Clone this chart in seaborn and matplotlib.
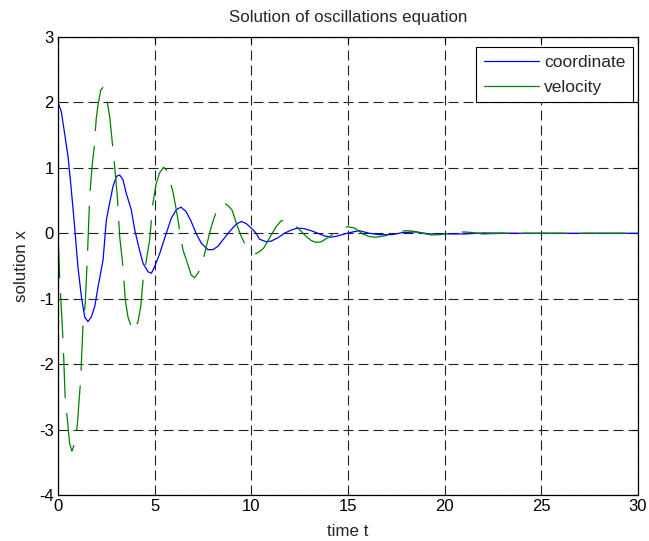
import matplotlib
matplotlib.use("Agg")
import matplotlib.pyplot as plt
import seaborn as sns
import pandas as pd

# --- data ---
t_coord = [0, 0.17, 0.34, 0.52, 0.69, 0.86, 1.03, 1.21, 1.38, 1.55, 1.72, 1.90, 2.07, 2.33, 2.5,
           2.67, 2.84, 3.02, 3.19, 3.36, 3.53, 3.79, 3.97, 4.22, 4.4, 4.66, 4.83, 5.0, 5.26, 5.6,
           5.86, 6.12, 6.36, 6.63, 6.89, 7.14, 7.41, 7.75, 8.01, 8.27, 8.53, 8.88, 9.22, 9.48,
           9.73, 10.0, 10.25, 10.42, 10.77, 11.02, 11.37, 11.71, 12.06, 12.4, 12.75, 13.09,
           13.44, 13.78, 14.13, 14.47, 14.82, 15.16, 15.59, 16.1, 16.6, 17.3, 17.8, 18.5, 19.2,
           19.9, 21, 22, 24, 26, 28, 30]
coordinate = [2.0, 1.86, 1.53, 1.17, 0.66, 0.10, -0.51, -0.97, -1.28, -1.35, -1.28, -1.12, -0.82,
              -0.41, 0.2, 0.46, 0.71, 0.87, 0.89, 0.82, 0.61, 0.36, 0.05, -0.26, -0.46, -0.59,
              -0.61, -0.51, -0.31, 0.0, 0.23, 0.36, 0.40, 0.33, 0.18, 0.0, -0.15, -0.25, -0.25,
              -0.2, -0.1, 0.03, 0.14, 0.18, 0.15, 0.08, 0.0, -0.09, -0.13, -0.12, -0.07, 0.0,
              0.05, 0.08, 0.07, 0.04, 0.0, -0.04, -0.06, -0.04, -0.01, 0.015, 0.04, 0.0, -0.02,
              -0.02, 0.01, 0.02, -0.01, -0.01, -0.01, 0.005, 0, 0, 0, 0]

t_vel = [0, 0.09, 0.26, 0.38, 0.48, 0.6, 0.72, 0.86, 1.0, 1.17, 1.29, 1.41, 1.52, 1.64, 1.76, 1.86,
         1.98, 2.07, 2.21, 2.33, 2.45, 2.53, 2.67, 2.9, 3.07, 3.19, 3.36, 3.48, 3.62, 3.79, 3.91,
         4.14, 4.28, 4.4, 4.57, 4.74, 4.91, 5.08, 5.25, 5.46, 5.6, 5.77, 5.94, 6.12, 6.29, 6.46,
         6.72, 6.89, 7.06, 7.24, 7.46, 7.63, 7.84, 8.01, 8.19, 8.39, 8.62, 8.84, 9.01, 9.25, 9.48,
         9.73, 10.0, 10.25, 10.42, 10.63, 11.02, 11.28, 11.54, 11.8, 12.06, 12.32, 12.58, 12.84,
         13.09, 13.35, 13.61, 13.78, 14.1, 14.39, 14.73, 14.99, 15.33, 15.59, 15.76, 16.1, 16.45,
         16.9, 17.3, 17.66, 18.0, 18.44, 18.87, 19.3, 19.8, 20.3, 21, 21.5, 22, 23, 25, 27, 30]
velocity = [0, -0.71, -1.63, -2.58, -2.83, -3.21, -3.33, -3.21, -2.93, -2.24, -1.43, -1.07, -0.36,
            0.56, 1.02, 1.28, 1.76, 1.96, 2.19, 2.23, 2.17, 2.04, 1.79, 1.12, 0.56, -0.05, -0.51,
            -1.02, -1.28, -1.43, -1.5, -1.35, -1.12, -0.71, -0.41, -0.1, 0.46, 0.76, 0.92, 1.01,
            0.97, 0.82, 0.64, 0.36, 0.05, -0.25, -0.48, -0.64, -0.68, -0.61, -0.48, -0.25, 0.0,
            0.18, 0.33, 0.43, 0.46, 0.41, 0.35, 0.13, -0.05, -0.2, -0.28, -0.31, -0.28, -0.23,
            -0.03, 0.10, 0.19, 0.2, 0.17, 0.10, 0.03, -0.05, -0.11, -0.14, -0.13, -0.1, -0.04,
            0.04, 0.09, 0.10, 0.08, 0.03, -0.01, -0.05, -0.06, -0.04, -0.01, 0.025, 0.04, 0.03,
            0.0, -0.025, -0.02, 0.01, 0.02, 0.01, -0.01, 0, 0, 0, 0]

x_ticks = [0, 5, 10, 15, 20, 25, 30]
y_ticks = [-4, -3, -2, -1, 0, 1, 2, 3]

sns.set_style("white")
plt.rcParams["font.family"] = ["Liberation Sans", "DejaVu Sans"]
plt.rcParams["axes.unicode_minus"] = False

fig = plt.figure(figsize=(6.49, 5.41), dpi=100)
ax = fig.add_axes([58 / 649, 46 / 541, 580 / 649, 458 / 541])

df_c = pd.DataFrame({"t": t_coord, "v": coordinate})
df_v = pd.DataFrame({"t": t_vel, "v": velocity})

sns.lineplot(data=df_c, x="t", y="v", ax=ax, color="#0000ff", linewidth=0.9,
             estimator=None, sort=False, label="coordinate")
sns.lineplot(data=df_v, x="t", y="v", ax=ax, color="#008000", linewidth=0.9,
             estimator=None, sort=False, label="velocity", linestyle=(0, (36, 12)))

ax.set_xlim(0, 30)
ax.set_ylim(-4, 3)
ax.set_xticks(x_ticks)
ax.set_yticks(y_ticks)
ax.tick_params(direction="in", length=4, width=0.8, top=True, right=True,
               labelsize=12, colors="black", pad=3)
for s in ax.spines.values():
    s.set_visible(True)
    s.set_color("black")
    s.set_linewidth(0.9)
ax.grid(True, color="#222222", linestyle=(0, (9, 4.5)), linewidth=0.8)
ax.set_axisbelow(True)

ax.set_title("Solution of oscillations equation", fontsize=12.2, pad=11)
ax.set_xlabel("time t", fontsize=12.2, labelpad=7)
ax.set_ylabel("solution x", fontsize=12.2, labelpad=7)

leg = ax.legend(loc="upper right", bbox_to_anchor=(575 / 580, 448 / 458),
                fontsize=12.5, frameon=True, fancybox=False,
                edgecolor="black", framealpha=1, handlelength=3.15, handletextpad=0.3,
                borderaxespad=0.0, borderpad=0.45, labelspacing=0.55)
leg.get_frame().set_linewidth(0.8)
for h in leg.get_lines():
    h.set_linestyle("-")

fig.savefig("out.png", dpi=100)
